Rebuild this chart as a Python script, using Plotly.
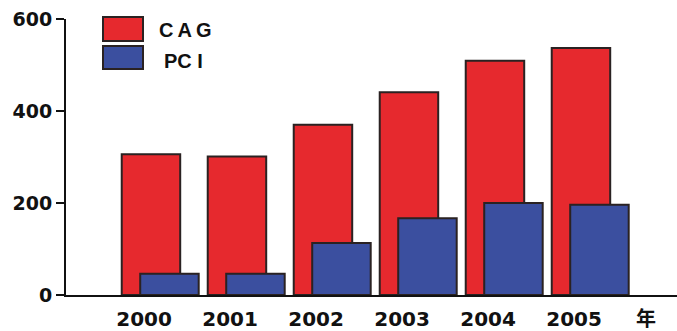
import plotly.graph_objects as go

# Annual procedure counts
years = ["2000", "2001", "2002", "2003", "2004", "2005"]
cag = [306, 301, 370, 441, 509, 537]
pci = [46, 46, 113, 167, 200, 196]
year_unit = "年"

RED = "#e6292e"
BLUE = "#3b4f9f"
EDGE = "#2a2222"

idx = list(range(len(years)))
pci_shift = 0.215
bar_w = 0.68

fig = go.Figure()
fig.add_bar(x=idx, y=cag, width=bar_w, name="CAG",
            marker=dict(color=RED, line=dict(color=EDGE, width=2)))
fig.add_bar(x=[i + pci_shift for i in idx], y=pci, width=bar_w, name="PCI",
            marker=dict(color=BLUE, line=dict(color=EDGE, width=2)))

# Plot area occupies x 66..677 px, y 19..295 px
L, R, T, B = 66, 0, 19, 36
W, H = 677, 331
pw, ph = W - L - R, H - T - B
x0 = -0.988
x1 = x0 + pw / 86.0

def px_to_paper(px, py):
    return (px - L) / pw, (H - B - py) / ph

# Custom legend boxes
for (top, bot, col) in [(17, 41, RED), (46, 69, BLUE)]:
    ax, ay0 = px_to_paper(103, bot)
    bx, ay1 = px_to_paper(143, top)
    fig.add_shape(type="rect", xref="paper", yref="paper",
                  x0=ax, x1=bx, y0=ay0, y1=ay1,
                  fillcolor=col, line=dict(color=EDGE, width=2))

for label, lx, cy in [("C\u2009A\u2009G", 157, 30.5), ("PC I", 162, 60.5)]:
    tx, ty = px_to_paper(lx, cy)
    fig.add_annotation(xref="paper", yref="paper", x=tx, y=ty,
                       xanchor="left", yanchor="middle", showarrow=False,
                       text=label,
                       font=dict(family="Liberation Sans, Arial", size=20,
                                 color="#111111", weight="bold"))

tick_pos = [i - 0.08 for i in idx] + [(646 - L) / 86.0 + x0]
tick_txt = years + [year_unit]

fig.update_layout(
    width=W, height=H,
    margin=dict(l=L, r=R, t=T, b=B, autoexpand=False),
    barmode="overlay",
    showlegend=False,
    paper_bgcolor="white",
    plot_bgcolor="white",
    xaxis=dict(range=[x0, x1], tickmode="array", tickvals=tick_pos,
               ticktext=tick_txt, ticks="", showgrid=False, zeroline=False,
               showline=True, linecolor="#111111", linewidth=2,
               automargin=False, ticklabelstandoff=5,
               tickfont=dict(family="DejaVu Sans, Noto Sans CJK JP",
                             size=20, color="#111111", weight="bold")),
    yaxis=dict(range=[0, 600], tickvals=[0, 200, 400, 600],
               ticks="outside", ticklen=8, tickwidth=1.5, tickcolor="#111111",
               showgrid=False, zeroline=False, automargin=False,
               showline=True, linecolor="#111111", linewidth=2,
               tickfont=dict(family="DejaVu Sans", size=19,
                             color="#111111", weight="bold")),
)

fig.write_html("out.html")
